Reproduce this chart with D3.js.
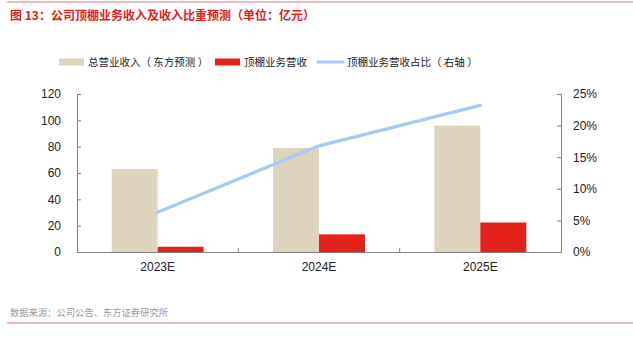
<!DOCTYPE html>
<html>
<head>
<meta charset="utf-8">
<script src="https://cdn.jsdelivr.net/npm/d3@7"></script>
<style>
  body { margin: 0; background: #fff; }
  svg text { font-family: "Liberation Sans", Arial, "Noto Sans CJK SC", sans-serif; }
  .cjk { font-family: "Noto Sans CJK SC", sans-serif; }
</style>
</head>
<body>
<div id="chart"></div>
<script>
const years = ['2023E', '2024E', '2025E'];
const totalRevenue = [63, 79, 96];      // 总营业收入（东方预测）
const roofRevenue = [4.0, 13.4, 22.4];  // 顶棚业务营收
const roofShare = [0.063, 0.168, 0.232]; // 顶棚业务营收占比（右轴）
const leftTicks = [0, 20, 40, 60, 80, 100, 120];
const rightTicks = [0, 0.05, 0.10, 0.15, 0.20, 0.25];

const W = 633, H = 338;
const margin = { top: 94, right: 72, bottom: 86, left: 77 };
const width = W - margin.left - margin.right;
const height = H - margin.top - margin.bottom;

const svg = d3.select('#chart').append('svg')
  .attr('width', W)
  .attr('height', H);

// header / footer rules
svg.append('line').attr('x1', 7).attr('x2', W).attr('y1', 2).attr('y2', 2)
  .attr('stroke', '#e07a7a').attr('stroke-width', 1);
svg.append('line').attr('x1', 7).attr('x2', W).attr('y1', 323).attr('y2', 323)
  .attr('stroke', '#e07a7a').attr('stroke-width', 1);

svg.append('text')
  .attr('class', 'cjk')
  .attr('x', 10).attr('y', 20)
  .attr('fill', '#e0201b')
  .attr('font-size', 12).attr('font-weight', 'bold')
  .text('图 13：公司顶棚业务收入及收入比重预测（单位：亿元）');

svg.append('text')
  .attr('class', 'cjk')
  .attr('x', 10).attr('y', 316)
  .attr('fill', '#999')
  .attr('font-size', 9.3)
  .text('数据来源：公司公告、东方证券研究所');

const chart = svg.append('g')
  .attr('transform', `translate(${margin.left}, ${margin.top})`);

// scales
const x = d3.scaleBand().domain(years).range([0, width]);
const xInner = d3.scaleBand().domain(['total', 'roof'])
  .range([x.bandwidth() * 0.215, x.bandwidth() * 0.785]);
const yL = d3.scaleLinear().domain([0, 120]).range([height, 0]);
const yR = d3.scaleLinear().domain([0, 0.25]).range([height, 0]);

// bars
const colors = { total: '#ded4bd', roof: '#e2221b' };
years.forEach((yr, i) => {
  const g = chart.append('g').attr('transform', `translate(${x(yr)}, 0)`);
  [['total', totalRevenue[i]], ['roof', roofRevenue[i]]].forEach(([k, v]) => {
    g.append('rect')
      .attr('x', xInner(k))
      .attr('y', yL(v))
      .attr('width', xInner.bandwidth())
      .attr('height', height - yL(v))
      .attr('fill', colors[k]);
  });
});

// share line on right axis
const line = d3.line()
  .x((d, i) => x(years[i]) + x.bandwidth() / 2)
  .y(d => yR(d));
chart.append('path')
  .datum(roofShare)
  .attr('d', line)
  .attr('fill', 'none')
  .attr('stroke', '#a8c8f8')
  .attr('stroke-width', 3.2)
  .attr('stroke-linecap', 'round');

// axes
const axisColor = '#808080';
const leftAxis = chart.append('g')
  .call(d3.axisLeft(yL).tickValues(leftTicks).tickSize(-4).tickPadding(16));
const rightAxis = chart.append('g')
  .attr('transform', `translate(${width}, 0)`)
  .call(d3.axisRight(yR).tickValues(rightTicks).tickSize(-4).tickPadding(12)
    .tickFormat(d3.format('.0%')));
const bottomAxis = chart.append('g')
  .attr('transform', `translate(0, ${height})`)
  .call(d3.axisBottom(x).tickSize(0).tickPadding(10));

// boundary ticks between categories
years.slice(1).forEach(yr => {
  chart.append('line')
    .attr('x1', x(yr)).attr('x2', x(yr))
    .attr('y1', height).attr('y2', height - 4)
    .attr('stroke', axisColor);
});

[leftAxis, rightAxis, bottomAxis].forEach(a => {
  a.select('.domain').attr('stroke', axisColor);
  a.selectAll('.tick line').attr('stroke', axisColor);
  a.selectAll('.tick text').attr('fill', '#222').attr('font-size', 12);
});

// legend
const legend = svg.append('g').attr('transform', 'translate(0, 62)');
const items = [
  { label: '总营业收入（ 东方预测 ）', x: 59, type: 'rect', color: colors.total },
  { label: '顶棚业务营收', x: 215, type: 'rect', color: colors.roof },
  { label: '顶棚业务营收占比（ 右轴 ）', x: 318, type: 'line', color: '#a8c8f8' }
];
items.forEach(it => {
  if (it.type === 'rect') {
    legend.append('rect').attr('x', it.x).attr('y', -3.5).attr('width', 25).attr('height', 7)
      .attr('fill', it.color);
  } else {
    legend.append('line').attr('x1', it.x).attr('x2', it.x + 25).attr('y1', 0).attr('y2', 0)
      .attr('stroke', it.color).attr('stroke-width', 3).attr('stroke-linecap', 'round');
  }
  legend.append('text')
    .attr('class', 'cjk')
    .attr('x', it.x + 29).attr('y', 4)
    .attr('fill', '#222')
    .attr('font-size', 10.5)
    .text(it.label);
});
</script>
</body>
</html>
